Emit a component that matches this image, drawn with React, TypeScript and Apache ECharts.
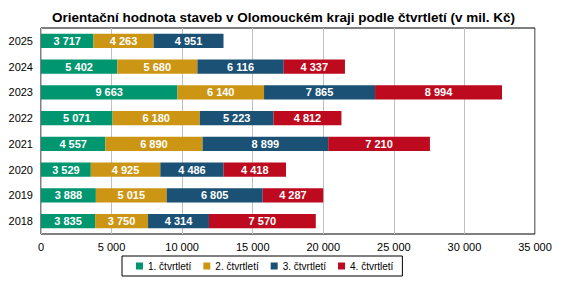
import React, { useEffect, useRef } from "react";
import * as echarts from "echarts";

const years = ["2018", "2019", "2020", "2021", "2022", "2023", "2024", "2025"];
const q1 = [3835, 3888, 3529, 4557, 5071, 9663, 5402, 3717];
const q2 = [3750, 5015, 4925, 6890, 6180, 6140, 5680, 4263];
const q3 = [4314, 6805, 4486, 8899, 5223, 7865, 6116, 4951];
const q4 = [7570, 4287, 4418, 7210, 4812, 8994, 4337, null];
const seriesNames = ["1. čtvrtletí", "2. čtvrtletí", "3. čtvrtletí", "4. čtvrtletí"];
const colors = ["#009670", "#CC9614", "#1A5174", "#BE0A1E"];
const title = "Orientační hodnota staveb v Olomouckém kraji podle čtvrtletí (v mil. Kč)";

const fmt = (v: number) => String(Math.round(v)).replace(/\B(?=(\d{3})+(?!\d))/g, " ");

export default function App() {
  const ref = useRef<HTMLDivElement>(null);
  useEffect(() => {
    document.body.style.margin = "0";
    const chart = echarts.init(ref.current!, null, { renderer: "svg" });
    const data = [q1, q2, q3, q4];
    chart.setOption({
      animation: false,
      textStyle: { fontFamily: "Liberation Sans, Arial, sans-serif" },
      title: {
        text: title,
        left: "center",
        top: 5,
        textStyle: { fontSize: 13.5, fontWeight: "bold", color: "#000", fontFamily: "Liberation Sans, Arial, sans-serif" },
      },
      grid: { left: 41, right: 32, top: 28, bottom: 49, show: true, borderColor: "#000", borderWidth: 1 },
      xAxis: {
        type: "value",
        min: 0,
        max: 35000,
        interval: 5000,
        axisLine: { show: false },
        axisTick: { show: false },
        splitLine: { show: true, lineStyle: { color: "#c0c0c0", width: 1 } },
        axisLabel: { color: "#000", fontSize: 11, margin: 7, formatter: (v: number) => fmt(v) },
      },
      yAxis: {
        type: "category",
        data: years,
        axisLine: { show: false },
        axisTick: { show: false },
        axisLabel: { color: "#000", fontSize: 11, margin: 8 },
      },
      legend: {
        bottom: 7,
        left: 122,
        itemWidth: 7,
        itemHeight: 7,
        itemGap: 12,
        icon: "rect",
        borderColor: "#000",
        borderWidth: 1,
        padding: [5, 9, 5, 14],
        textStyle: { fontSize: 10, color: "#000" },
        data: seriesNames,
      },
      series: seriesNames.map((n, i) => ({
        name: n,
        type: "bar",
        stack: "total",
        barCategoryGap: "45%",
        itemStyle: { color: colors[i] },
        data: data[i],
        label: {
          show: true,
          position: "inside",
          color: "#fff",
          fontSize: 11,
          fontWeight: "bold",
          formatter: (p: any) => (p.value == null ? "" : fmt(p.value)),
        },
      })),
    });
    return () => chart.dispose();
  }, []);
  return <div ref={ref} style={{ width: 567, height: 283 }} />;
}
